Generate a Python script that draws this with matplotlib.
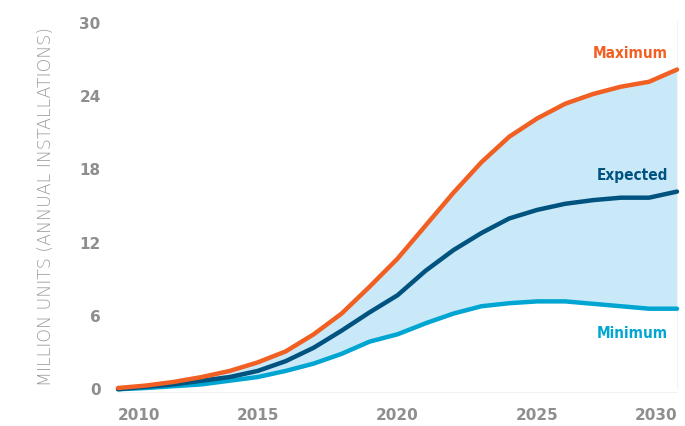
import matplotlib
matplotlib.use("Agg")
import matplotlib.pyplot as plt

years = list(range(2010, 2031))
maximum = [0.0, 0.2, 0.5, 0.9, 1.4, 2.1, 3.0, 4.4, 6.1, 8.3, 10.6, 13.3, 16.0, 18.5, 20.6, 22.1, 23.3, 24.1, 24.7, 25.1, 26.1]
expected = [-0.1, 0.1, 0.3, 0.6, 0.9, 1.4, 2.2, 3.3, 4.7, 6.2, 7.6, 9.6, 11.3, 12.7, 13.9, 14.6, 15.1, 15.4, 15.6, 15.6, 16.1]
minimum = [-0.1, 0.0, 0.15, 0.3, 0.6, 0.9, 1.4, 2.0, 2.8, 3.8, 4.4, 5.3, 6.1, 6.7, 6.95, 7.1, 7.1, 6.9, 6.7, 6.5, 6.5]
yticks = [0, 6, 12, 18, 24, 30]
xticks = [2010, 2015, 2020, 2025, 2030]

c_max = "#f15f22"
c_exp = "#00527f"
c_min = "#00a5d2"
c_fill = "#c9e9f9"
c_tick = "#8e8e90"

W, H = 685, 427
fig = plt.figure(figsize=(W / 100, H / 100), dpi=100)
ax = fig.add_axes([118 / W, 1 - 389 / H, (677 - 118) / W, (389 - 23) / H])

for s in ["top", "left"]:
    ax.spines[s].set_visible(False)
for s in ["bottom", "right"]:
    ax.spines[s].set_color("#f2f2f2")
    ax.spines[s].set_linewidth(0.8)
ax.spines["bottom"].set_position(("outward", 3))

ax.fill_between(years, minimum, maximum, color=c_fill, lw=0, zorder=1)
for vals, col in [(minimum, c_min), (expected, c_exp), (maximum, c_max)]:
    ax.plot(years, vals, color=col, lw=3.2, solid_capstyle="round",
            solid_joinstyle="round", zorder=3, clip_on=False)

ax.set_xlim(2010, 2030)
ax.set_ylim(0, 30)
ax.set_yticks(yticks)
ax.set_yticklabels([str(v) for v in yticks], fontweight="bold")
ax.set_xticks(xticks)
ax.set_xticklabels([str(v) for v in xticks], fontweight="bold")
ax.tick_params(axis="both", length=0, labelsize=11, labelcolor=c_tick)
ax.tick_params(axis="y", pad=12.5)
ax.tick_params(axis="x", pad=10.5)
xl = ax.get_xticklabels()
xl[0].set_ha("left")
xl[-1].set_ha("right")

fig.text(46 / W, 1 - 207 / H, "MILLION UNITS (ANNUAL INSTALLATIONS)", rotation=90,
         ha="center", va="center", fontsize=12.5, color="#9a9a9c", fontweight="light")

lab_kw = dict(ha="right", va="center", fontsize=11, fontweight="bold",
              fontstretch="condensed", family="DejaVu Sans")
fig.text(668 / W, 1 - 53 / H, "Maximum", color=c_max, **lab_kw)
fig.text(668 / W, 1 - 176 / H, "Expected", color=c_exp, **lab_kw)
fig.text(668 / W, 1 - 334 / H, "Minimum", color=c_min, **lab_kw)

fig.savefig("out.png", dpi=100)
